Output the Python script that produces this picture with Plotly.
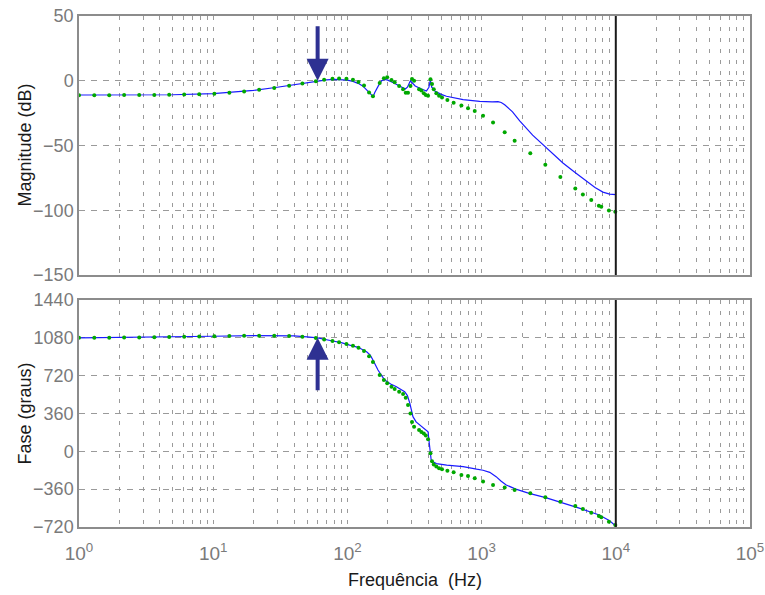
import numpy as np
import plotly.graph_objects as go

# ---------------- data ----------------
# measured (green dots)
meas_freq = [1, 1.3, 1.68, 2.17, 2.81, 3.64, 4.7, 6.08, 7.87, 10.2, 13.2, 17, 22, 28.5, 36.8,
             46.2, 58.2, 67.1, 77.4, 86.7, 98.4, 110, 121, 133, 145, 155, 174, 187, 198, 213,
             225, 243, 260, 272, 283, 295, 303, 314, 342, 356, 371, 384, 399, 416, 427, 440,
             460, 482, 507, 556, 619, 707, 792, 889, 1025, 1217, 1486, 1763, 2306, 2985, 3862,
             4990, 5685, 6564, 7477, 7797, 8886, 9914]
meas_mag = [-11.2, -11.2, -11.2, -11.1, -11.1, -11, -10.9, -10.7, -10.4, -10, -9.3, -8.3, -7, -5.6, -3.8,
            -2.1, -0.4, 0.8, 1.5, 1.8, 1.5, 0.8, -1, -3.6, -9, -12, -1.8, 2, 2.7, 0.6,
            -1.2, -4, -6.6, -9.2, -9.2, -4, 1.4, 0, -6.6, -7.6, -9.6, -11, -11.5, 1.1, -2.5, -6.6,
            -9.6, -11.5, -13, -14.8, -16.9, -19.2, -21.2, -23.3, -27.1, -32.3, -39.7, -46.4, -55.9, -64.9, -74.4,
            -83.2, -87.8, -92.1, -96.5, -97.3, -100.2, -101.2]
meas_phase = [1080, 1081, 1082, 1083, 1084, 1086, 1088, 1090, 1092, 1095, 1098, 1100, 1101, 1100, 1097,
              1090, 1078, 1065, 1050, 1037, 1022, 1005, 985, 955, 905, 850, 727, 680, 648, 615,
              593, 567, 545, 510, 440, 361, 280, 235, 203, 185, 170, 150, 114, -19, -95, -125,
              -145, -160, -171, -184, -200, -225, -234, -256, -288, -320, -345, -368, -400, -438, -480,
              -521, -549, -584, -616, -628, -670, -701]

# model (blue line)
model_mag_freq = [1, 2, 5, 10, 15, 20, 30, 40, 50, 60, 70, 80, 90, 100, 110, 120, 130, 140, 150, 155,
                  160, 170, 180, 190, 200, 220, 240, 260, 270, 280, 290, 295, 300, 320, 350, 388, 405,
                  415, 425, 448, 500, 547, 728, 968, 1200, 1325, 1400, 1486, 1700, 1923, 2400, 2951,
                  4037, 5000, 6024, 7000, 8017, 9000, 10000]
model_mag = [-11, -11, -10.8, -10, -8.8, -7.4, -5, -3, -1.5, -0.2, 0.6, 1, 1, 0.5, -0.5, -2, -4, -7, -10.5, -12.5,
             -9, -4, 0, 1, 0.5, -1.5, -3.5, -5.5, -6.4, -5, -1, 0, -1, -4, -6, -8, -5,
             0.5, -5, -8, -10.5, -12, -14.6, -16, -16.3, -16.2, -16.8, -18.5, -24, -31, -42, -50.7,
             -63.5, -71, -77.6, -82.5, -86, -87.5, -88]

model_ph_freq = [1, 2, 5, 10, 20, 30, 40, 50, 60, 76, 90, 104, 120, 139, 148, 155, 162, 169, 180, 190,
                 210, 232, 267, 280, 292, 300, 308, 325, 346, 370, 388, 399, 404, 410, 416, 421, 435,
                 448, 460, 550, 728, 917, 1025, 1150, 1283, 1400, 1526, 1800, 2262, 3000, 3820, 5410,
                 7526, 9000, 10000]
model_phase = [1080, 1083, 1088, 1095, 1102, 1103, 1098, 1090, 1080, 1052, 1035, 1011, 990, 948, 915, 869, 820, 774, 720, 678,
               640, 615, 567, 530, 457, 380, 330, 280, 251, 225, 205, 185, 120, 20, -50, -83, -100,
               -108, -117, -132, -146, -170, -180, -200, -241, -285, -320, -360, -400, -440, -480, -543,
               -606, -660, -712]

arrow_freq = 60
x_tickvals = [1, 10, 100, 1000, 10000, 100000]
x_ticktext = ["10<sup>0</sup>", "10<sup>1</sup>", "10<sup>2</sup>", "10<sup>3</sup>",
              "10<sup>4</sup>", "10<sup>5</sup>"]
mag_ticks = [50, 0, -50, -100, -150]
phase_ticks = [1440, 1080, 720, 360, 0, -360, -720]

# ---------------- figure ----------------
FONT = "Arial, Liberation Sans, sans-serif"
TICKC = "#7a7a7a"
GRIDC = "#9a9a9a"
BLUE = "#1a1aff"
GREEN = "#00a800"
NAVY = "#2e3192"
TOP_DOMAIN = [0.4932, 1]
BOT_DOMAIN = [0, 0.4442]

fig = go.Figure()

fig.add_trace(go.Scatter(x=model_mag_freq, y=model_mag, mode="lines",
                         line=dict(color=BLUE, width=1.2), xaxis="x", yaxis="y", showlegend=False))
fig.add_trace(go.Scatter(x=meas_freq, y=meas_mag, mode="markers",
                         marker=dict(color=GREEN, size=4), xaxis="x", yaxis="y", showlegend=False))
fig.add_trace(go.Scatter(x=model_ph_freq, y=model_phase, mode="lines",
                         line=dict(color=BLUE, width=1.2), xaxis="x2", yaxis="y2", showlegend=False))
fig.add_trace(go.Scatter(x=meas_freq, y=meas_phase, mode="markers",
                         marker=dict(color=GREEN, size=4), xaxis="x2", yaxis="y2", showlegend=False))

# vertical black line at 10^4 in both panels
fig.add_trace(go.Scatter(x=[1e4, 1e4], y=[-150, 50], mode="lines", line=dict(color="#1a1a1a", width=2),
                         xaxis="x", yaxis="y", showlegend=False, hoverinfo="skip"))
fig.add_trace(go.Scatter(x=[1e4, 1e4], y=[-720, 1440], mode="lines", line=dict(color="#1a1a1a", width=2),
                         xaxis="x2", yaxis="y2", showlegend=False, hoverinfo="skip"))

xcommon = dict(type="log", range=[0, 5], showline=True, mirror=True, linecolor="#8c8c8c", linewidth=1.5,
               showgrid=True, gridcolor=GRIDC, griddash="4px,7px", gridwidth=1,
               minor=dict(dtick="D1", showgrid=True, gridcolor=GRIDC, griddash="4px,7px", gridwidth=1),
               tickvals=x_tickvals, ticktext=x_ticktext, zeroline=False, automargin=False,
               tickfont=dict(family=FONT, size=19, color=TICKC), ticks="")
ycommon = dict(showline=True, mirror=True, linecolor="#8c8c8c", linewidth=1.5, automargin=False,
               showgrid=True, gridcolor=GRIDC, griddash="6px,6px", gridwidth=1, zeroline=False,
               tickfont=dict(family=FONT, size=18, color=TICKC), ticks="")

TITLEF = dict(family=FONT, size=18, color="#1a1a1a")

fig.update_layout(
    width=765, height=595,
    margin=dict(l=79, r=15, t=16, b=68),
    paper_bgcolor="white", plot_bgcolor="white",
    font=dict(family=FONT, size=17, color="#1a1a1a"),
    xaxis=dict(**xcommon, domain=[0, 1], anchor="y", showticklabels=False),
    yaxis=dict(**ycommon, domain=TOP_DOMAIN, anchor="x", range=[-150, 50], tickvals=mag_ticks),
    xaxis2=dict(**xcommon, domain=[0, 1], anchor="y2", ticklabelstandoff=8),
    yaxis2=dict(**ycommon, domain=BOT_DOMAIN, anchor="x2", range=[-720, 1440], tickvals=phase_ticks),
    annotations=[
        dict(x=np.log10(arrow_freq), y=0, xref="x", yref="y", ax=0, ay=-56, axref="pixel", ayref="pixel",
             text="", showarrow=True, arrowhead=2, arrowsize=1.1, arrowwidth=4, arrowcolor=NAVY),
        dict(x=np.log10(arrow_freq), y=1080, xref="x2", yref="y2", ax=0, ay=54, axref="pixel", ayref="pixel",
             text="", showarrow=True, arrowhead=2, arrowsize=1.1, arrowwidth=4, arrowcolor=NAVY),
        # axis titles
        dict(text="Magnitude (dB)", font=TITLEF, textangle=-90, showarrow=False,
             xref="paper", yref="paper", x=0, y=sum(TOP_DOMAIN) / 2, xanchor="center", yanchor="middle",
             xshift=-54),
        dict(text="Fase (graus)", font=TITLEF, textangle=-90, showarrow=False,
             xref="paper", yref="paper", x=0, y=sum(BOT_DOMAIN) / 2, xanchor="center", yanchor="middle",
             xshift=-54),
        dict(text="Frequência  (Hz)", font=TITLEF, showarrow=False,
             xref="paper", yref="paper", x=0.5, y=0, xanchor="center", yanchor="middle",
             yshift=-53),
    ],
)

fig.write_html("out.html")
